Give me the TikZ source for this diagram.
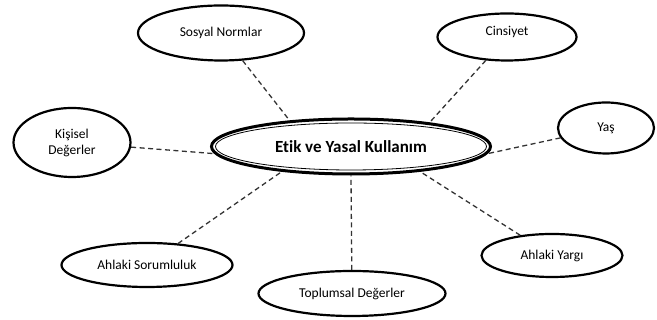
\documentclass[tikz,border=0pt]{standalone}
\usepackage{fontspec}
\setmainfont{Carlito}[Ligatures=NoCommon]
\usetikzlibrary{shapes.geometric}

\tikzset{
  konu/.style={draw, ellipse, line width=2.2pt, inner sep=0pt, align=center,
    font=\fontsize{13.5}{16}\selectfont},
  bag/.style={dash pattern=on 5pt off 3.5pt, line width=1.3pt, black!80}
}

\begin{document}
\begin{tikzpicture}[x=1pt,y=1pt]
  \useasboundingbox (0,0) rectangle (657,320);
  % central concept, outer thick line
  \node[draw, ellipse, line width=3pt, minimum width=279pt, minimum height=55pt,
    font=\bfseries\fontsize{17}{19}\selectfont] (etik) at (351,173.5) {Etik ve Yasal Kullanım};
  % inner thin line
  \draw[line width=0.8pt] (etik.center) ellipse (135.5pt and 23.5pt);
  % surrounding factors
  \node[konu, minimum width=166pt, minimum height=55pt] (sosyal) at (221,287) {Sosyal Normlar};
  \node[konu, minimum width=139pt, minimum height=47pt, text depth=13pt] (cinsiyet) at (507,283) {Cinsiyet};
  \node[konu, minimum width=117pt, minimum height=69pt] (kisisel) at (72,177.5) {Kişisel\\Değerler};
  \node[konu, minimum width=96pt, minimum height=51pt] (yas) at (606,192) {Yaş};
  \node[konu, minimum width=171pt, minimum height=44pt] (sorum) at (147,55) {Ahlaki Sorumluluk};
  \node[konu, minimum width=187pt, minimum height=45pt] (toplum) at (352,26.5) {Toplumsal Değerler};
  \node[konu, minimum width=141pt, minimum height=43pt] (yargi) at (552,64.5) {Ahlaki Yargı};
  % dashed links to the centre
  \draw[bag] (sosyal) -- (etik.157);
  \draw[bag] (cinsiyet) -- (etik.17);
  \draw[bag] (kisisel) -- (etik.183);
  \draw[bag] (yas) -- (etik.357);
  \draw[bag] (sorum) -- (etik.200);
  \draw[bag] (toplum) -- (etik.south);
  \draw[bag] (yargi) -- (etik.340);
\end{tikzpicture}
\end{document}
